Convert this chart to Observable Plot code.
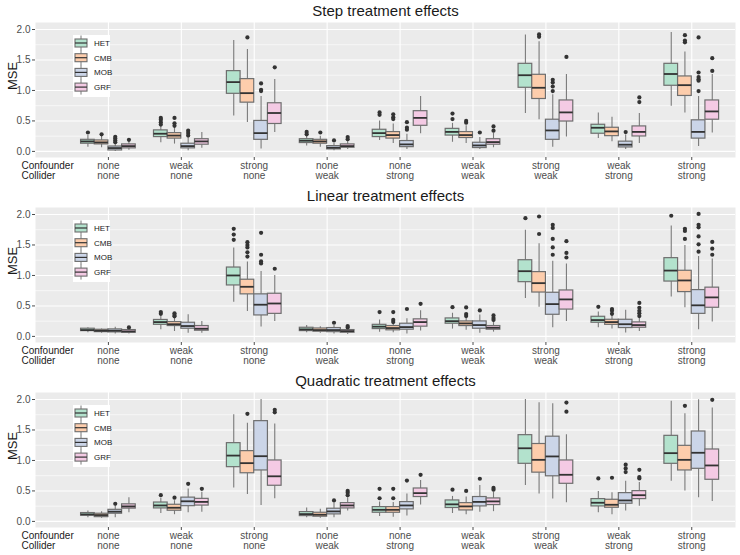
<!DOCTYPE html>
<html><head><meta charset="utf-8">
<script src="https://cdn.jsdelivr.net/npm/d3@7"></script>
<script src="https://cdn.jsdelivr.net/npm/@observablehq/plot@0.6"></script>
<style>
body{margin:0;background:#fff;font-family:"Liberation Sans",Arial,sans-serif}
svg{display:block}
</style>
</head><body><div id="chart"></div>
<script>
const confounder = ["none","weak","strong","none","none","weak","strong","weak","strong"];
const collider   = ["none","none","none","weak","strong","weak","weak","strong","strong"];
const rowLabels = ["Confounder","Collider"];
const methods = ["HET","CMB","MOB","GRF"];
const methodColors = ["#B3E2CD","#FDCDAC","#CBD5E8","#F4CAE4"];
const yTicks = [0, 0.5, 1, 1.5, 2];
const yMinor = [0.25, 0.75, 1.25, 1.75];
const panelTitles = ["Step treatment effects","Linear treatment effects","Quadratic treatment effects"];

// [lower whisker, q1, median, q3, upper whisker] per group, per method (HET, CMB, MOB, GRF)
const stepBoxes = [
 [[0.07,0.126,0.164,0.19,0.26],[0.06,0.115,0.148,0.18,0.25],[0.0,0.016,0.055,0.08,0.12],[0.02,0.05,0.087,0.115,0.17]],
 [[0.14,0.235,0.29,0.345,0.43],[0.12,0.21,0.26,0.30,0.40],[0.01,0.05,0.087,0.126,0.22],[0.05,0.11,0.164,0.20,0.31]],
 [[0.58,0.945,1.137,1.317,1.82],[0.475,0.80,0.956,1.186,1.67],[0.04,0.19,0.30,0.50,0.90],[0.31,0.45,0.63,0.79,1.18]],
 [[0.09,0.137,0.175,0.20,0.26],[0.07,0.126,0.164,0.19,0.25],[0.01,0.033,0.06,0.087,0.13],[0.03,0.06,0.087,0.115,0.17]],
 [[0.18,0.235,0.30,0.355,0.50],[0.13,0.21,0.268,0.317,0.45],[0.03,0.07,0.115,0.17,0.28],[0.29,0.42,0.55,0.66,0.90]],
 [[0.15,0.26,0.32,0.37,0.46],[0.13,0.22,0.268,0.317,0.42],[0.03,0.055,0.098,0.142,0.23],[0.06,0.11,0.153,0.20,0.30]],
 [[0.62,1.044,1.25,1.437,1.91],[0.52,0.86,1.044,1.257,1.80],[0.07,0.19,0.344,0.52,0.93],[0.235,0.49,0.64,0.836,1.26]],
 [[0.21,0.29,0.388,0.437,0.63],[0.16,0.25,0.328,0.388,0.56],[0.03,0.065,0.11,0.16,0.27],[0.13,0.245,0.32,0.41,0.62]],
 [[0.74,1.077,1.27,1.437,1.95],[0.63,0.91,1.087,1.23,1.63],[0.08,0.21,0.32,0.51,0.90],[0.30,0.52,0.656,0.836,1.26]]
];
const stepOutliers = [
 [[0.31],[0.28],[0.24,0.21,0.18,0.15],[0.19]],
 [[0.55,0.52,0.48,0.44],[0.55,0.46,0.42],[0.34,0.30,0.26],[]],
 [[],[1.87],[1.115,1.01,0.99],[1.38]],
 [[0.32,0.28],[0.31],[0.18],[0.235,0.2]],
 [[0.64,0.60],[0.61,0.56,0.53],[0.48,0.39,0.355],[]],
 [[0.62,0.53],[0.50,0.47],[0.31],[0.41,0.34]],
 [[],[1.92,1.88],[1.175,1.13,1.065,0.99],[1.55]],
 [[],[],[0.317],[0.885,0.81]],
 [[],[1.907,1.82,1.79],[1.87,1.295,1.22,1.185,1.16,0.99],[1.53,1.32]]
];

const linearBoxes = [
 [[0.06,0.087,0.104,0.126,0.14],[0.05,0.07,0.093,0.109,0.12],[0.04,0.066,0.093,0.115,0.15],[0.04,0.06,0.082,0.104,0.13]],
 [[0.11,0.19,0.235,0.27,0.34],[0.08,0.17,0.20,0.235,0.32],[0.05,0.126,0.17,0.224,0.355],[0.05,0.093,0.126,0.17,0.245]],
 [[0.56,0.836,1.0,1.13,1.45],[0.41,0.69,0.814,0.93,1.22],[0.153,0.344,0.52,0.69,1.065],[0.245,0.37,0.54,0.70,1.0]],
 [[0.06,0.087,0.115,0.142,0.18],[0.05,0.077,0.104,0.13,0.16],[0.04,0.07,0.104,0.137,0.18],[0.03,0.06,0.087,0.104,0.14]],
 [[0.07,0.12,0.16,0.19,0.27],[0.06,0.10,0.137,0.17,0.25],[0.04,0.11,0.153,0.208,0.29],[0.09,0.16,0.235,0.28,0.42]],
 [[0.12,0.208,0.25,0.295,0.38],[0.10,0.17,0.213,0.246,0.31],[0.05,0.126,0.186,0.246,0.35],[0.07,0.11,0.142,0.17,0.26]],
 [[0.62,0.89,1.07,1.25,1.74],[0.48,0.72,0.874,1.055,1.52],[0.142,0.355,0.53,0.716,1.235],[0.246,0.44,0.607,0.754,1.186]],
 [[0.14,0.224,0.268,0.322,0.40],[0.12,0.19,0.235,0.273,0.35],[0.055,0.137,0.20,0.273,0.43],[0.08,0.142,0.186,0.23,0.32]],
 [[0.645,0.90,1.08,1.284,1.81],[0.47,0.727,0.918,1.077,1.49],[0.11,0.37,0.51,0.76,1.31],[0.235,0.47,0.64,0.80,1.27]]
];
const linearOutliers = [
 [[],[],[],[0.148]],
 [[0.40,0.37],[0.38,0.35,0.33],[],[]],
 [[1.765,1.67,1.585],[1.546,1.50,1.46,1.38,1.31],[1.70,1.34,1.23,1.197],[1.11]],
 [[],[],[0.224],[0.17,0.148]],
 [[0.40],[0.40,0.27,0.235],[0.45],[0.535]],
 [[0.48],[0.475,0.366,0.333],[0.426],[0.344,0.30,0.27]],
 [[1.94],[1.967,1.68],[1.83,1.78,1.60,1.46,1.34],[1.563,1.37,1.295]],
 [[0.486],[0.45,0.42,0.37],[],[0.55,0.47,0.42,0.38,0.333]],
 [[1.98],[1.765,1.73,1.60],[2.01,1.83,1.79,1.64,1.51,1.39],[1.55,1.44,1.34]]
];

const quadBoxes = [
 [[0.06,0.093,0.115,0.137,0.17],[0.05,0.07,0.104,0.126,0.16],[0.06,0.126,0.16,0.19,0.26],[0.14,0.21,0.246,0.28,0.39]],
 [[0.13,0.213,0.262,0.31,0.38],[0.11,0.175,0.224,0.273,0.34],[0.14,0.25,0.33,0.39,0.53],[0.15,0.26,0.32,0.37,0.48]],
 [[0.55,0.89,1.08,1.284,1.75],[0.44,0.79,0.956,1.153,1.61],[0.26,0.836,1.07,1.645,2.0],[0.37,0.585,0.74,1.0,1.60]],
 [[0.06,0.087,0.12,0.153,0.22],[0.05,0.077,0.11,0.142,0.20],[0.06,0.115,0.164,0.208,0.30],[0.17,0.213,0.262,0.30,0.39]],
 [[0.08,0.142,0.19,0.235,0.32],[0.07,0.142,0.19,0.235,0.31],[0.09,0.197,0.262,0.317,0.45],[0.27,0.40,0.464,0.54,0.67]],
 [[0.13,0.22,0.28,0.344,0.41],[0.11,0.18,0.246,0.30,0.40],[0.15,0.246,0.32,0.40,0.59],[0.16,0.268,0.328,0.377,0.48]],
 [[0.59,0.945,1.20,1.415,2.0],[0.45,0.80,1.01,1.27,1.945],[0.366,0.74,1.066,1.39,1.93],[0.306,0.617,0.765,1.0,1.42]],
 [[0.14,0.246,0.306,0.366,0.49],[0.11,0.224,0.273,0.355,0.47],[0.17,0.29,0.344,0.464,0.66],[0.25,0.366,0.43,0.497,0.64]],
 [[0.66,0.945,1.12,1.404,1.97],[0.50,0.836,1.01,1.24,1.765],[0.39,0.863,1.126,1.475,1.995],[0.328,0.683,0.918,1.18,1.86]]
];
const quadOutliers = [
 [[],[],[0.29],[]],
 [[0.43],[0.39],[0.617],[0.535]],
 [[],[1.765],[],[1.83,1.79]],
 [[],[],[0.344],[0.50,0.47,0.43]],
 [[0.535,0.38],[0.535,0.38],[0.67],[0.765]],
 [[0.52],[0.50],[0.70],[0.55,0.52]],
 [[],[],[],[1.95,1.80]],
 [[0.705],[0.716],[0.93,0.87,0.81],[0.847,0.727,0.705]],
 [[],[1.896],[],[1.995]]
];

const panels = [
  {title: panelTitles[0], boxes: stepBoxes, outliers: stepOutliers},
  {title: panelTitles[1], boxes: linearBoxes, outliers: linearOutliers},
  {title: panelTitles[2], boxes: quadBoxes, outliers: quadOutliers}
];

const dodge = 0.75 / methods.length;   // ggplot dodge width split among methods
const half = dodge / 2;
const groupIdx = d3.range(confounder.length);
const groupPos = groupIdx.map(i => i + 1);
const color = {domain: methods, range: methodColors};

function makePanel(p) {
  const rows = [];
  const outs = [];
  p.boxes.forEach((grp, g) => grp.forEach((s, m) => {
    const xc = g + 1 + (m - 1.5) * dodge;
    rows.push({method: methods[m], x: xc, lo: s[0], q1: s[1], med: s[2], q3: s[3], hi: s[4]});
    p.outliers[g][m].forEach(v => outs.push({method: methods[m], x: xc, y: v}));
  }));
  const chart = Plot.plot({
    width: 740, height: 185,
    marginLeft: 35, marginRight: 5, marginTop: 22, marginBottom: 28,
    style: {fontFamily: "'Liberation Sans', Arial, sans-serif", fontSize: "10px", background: "white", overflow: "visible"},
    x: {domain: [0, 9.6], axis: null},
    y: {domain: [-0.1, 2.115], axis: null},
    color,
    marks: [
      Plot.frame({fill: "#EBEBEB", stroke: null}),
      Plot.ruleY(yMinor, {stroke: "white", strokeWidth: 0.6}),
      Plot.ruleY(yTicks, {stroke: "white", strokeWidth: 1.1}),
      Plot.ruleX(groupPos, {stroke: "white", strokeWidth: 1.1}),
      Plot.ruleX(rows, {x: "x", y1: "lo", y2: "q1", stroke: "#7a7a7a", strokeWidth: 1.1}),
      Plot.ruleX(rows, {x: "x", y1: "q3", y2: "hi", stroke: "#7a7a7a", strokeWidth: 1.1}),
      Plot.rect(rows, {x1: d => d.x - half, x2: d => d.x + half, y1: "q1", y2: "q3", fill: "method", stroke: "#6e6e6e", strokeWidth: 1.2}),
      Plot.ruleY(rows, {x1: d => d.x - half, x2: d => d.x + half, y: "med", stroke: "#333333", strokeWidth: 1.8}),
      Plot.dot(outs, {x: "x", y: "y", r: 2.1, fill: "#333333", stroke: null}),
      Plot.axisY({ticks: yTicks, tickFormat: d3.format(".1f"), tickSize: 3, tickPadding: 2, color: "#4D4D4D", fontSize: 10, label: null}),
      Plot.axisX({ticks: groupPos, tickFormat: d => confounder[d - 1] + "\n" + collider[d - 1], tickSize: 3, tickPadding: 1, lineHeight: 1, color: "#4D4D4D", fontSize: 10, label: null}),
      Plot.axisX({ticks: [0], tickFormat: () => rowLabels.join("\n"), tickSize: 0, tickPadding: 4, lineHeight: 1, textAnchor: "start", dx: -14, fill: "#1a1a1a", fontSize: 10, label: null}),
      Plot.text(["MSE"], {frameAnchor: "left", lineAnchor: "middle", dx: -23, rotate: -90, fill: "#1a1a1a", fontSize: 13}),
      Plot.text([p.title], {frameAnchor: "top", lineAnchor: "middle", dy: -11, fill: "#1a1a1a", fontSize: 15})
    ]
  });
  // in-panel legend with boxplot key glyphs
  const svg = d3.select(chart);
  const lg = svg.append("g").attr("class", "legend");
  lg.append("rect").attr("x", 73).attr("y", 35).attr("width", 37).attr("height", 62).attr("fill", "white");
  methods.forEach((m, k) => {
    const cy = 43 + k * 14.7, cx = 81;
    lg.append("line").attr("x1", cx).attr("x2", cx).attr("y1", cy - 7.5).attr("y2", cy + 7.5).attr("stroke", "#7a7a7a").attr("stroke-width", 1);
    lg.append("rect").attr("x", cx - 6).attr("y", cy - 4).attr("width", 12).attr("height", 8).attr("fill", methodColors[k]).attr("stroke", "#6e6e6e").attr("stroke-width", 1.1);
    lg.append("line").attr("x1", cx - 6).attr("x2", cx + 6).attr("y1", cy).attr("y2", cy).attr("stroke", "#333").attr("stroke-width", 1.2);
    lg.append("text").attr("x", 94).attr("y", cy).attr("dy", "0.35em").attr("text-anchor", "start").attr("font-size", 8).attr("fill", "#1a1a1a").text(m);
  });
  return chart;
}

const root = document.getElementById("chart");
panels.forEach(p => root.appendChild(makePanel(p)));
</script>
</body></html>
